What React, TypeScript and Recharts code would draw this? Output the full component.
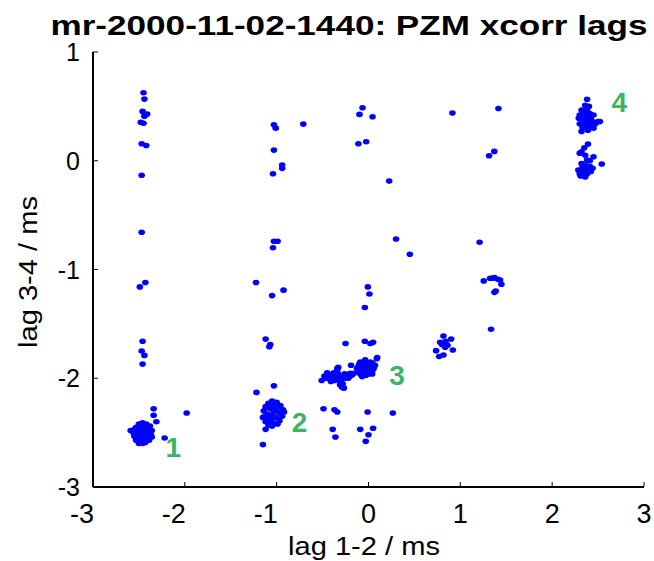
import React from "react";
import { ScatterChart, Scatter, XAxis, YAxis } from "recharts";

// lag 1-2 (ms), lag 3-4 (ms) pairs
const strayPoints = [
  [-2.45, 0.625], [-2.44, 0.567], [-2.46, 0.454], [-2.41, 0.43], [-2.44, 0.41],
  [-2.48, 0.353], [-2.45, 0.345], [-2.47, 0.156], [-2.42, 0.14], [-2.47, -0.134],
  [-2.47, -0.658], [-2.49, -1.16], [-2.43, -1.12], [-2.46, -1.66], [-2.47, -1.75],
  [-2.44, -1.79], [-2.46, -1.87], [-2.34, -2.28], [-2.34, -2.34], [-2.31, -2.4],
  [-2.22, -2.55], [-1.98, -2.32], [-2.59, -2.48],
  [-1.03, 0.33], [-1.01, 0.3], [-0.71, 0.337], [-1.03, 0.098], [-0.94, -0.04],
  [-0.94, -0.07], [-1.04, -0.12], [-1.03, -0.74], [-0.99, -0.74], [-1.04, -0.8],
  [-1.225, -1.12], [-1.05, -1.24], [-0.925, -1.19], [-1.12, -1.64], [-1.08, -1.71],
  [-1.07, -1.69], [-1.03, -2.07], [-1.22, -2.13], [-1.12, -2.47], [-1.15, -2.61],
  [-0.065, 0.487], [-0.098, 0.426], [0.044, 0.405], [-0.11, 0.156], [-0.025, 0.175],
  [0.225, -0.187], [0.3, -0.72], [0.45, -0.86],
  [-0.007, -1.16], [0.01, -1.225], [-0.04, -1.35], [-0.04, -1.66], [0.02, -1.68],
  [0.05, -1.67], [-0.25, -1.68], [-0.19, -1.88], [-0.34, -1.91], [0.095, -1.81],
  [-0.27, -2.09], [-0.49, -2.28], [-0.37, -2.29], [-0.34, -2.31], [-0.39, -2.47],
  [-0.36, -2.54], [-0.01, -2.31], [0.265, -2.32], [-0.09, -2.47], [0.05, -2.46],
  [0.0, -2.52], [-0.03, -2.58],
  [0.914, 0.438], [1.415, 0.48], [1.313, 0.046], [1.37, 0.086], [1.21, -0.75],
  [0.816, -1.611], [0.9, -1.64], [0.78, -1.67], [0.835, -1.715], [0.736, -1.746],
  [0.77, -1.8], [0.816, -1.786], [0.918, -1.74], [0.86, -1.696], [0.8, -1.69],
  [0.84, -1.66],
  [1.255, -1.105], [1.324, -1.08], [1.371, -1.075], [1.433, -1.096], [1.447, -1.136],
  [1.371, -1.21], [1.386, -1.198], [1.335, -1.55], [1.35, -1.08], [1.41, -1.09],
];

const cluster1 = [
  [-2.46, -2.41], [-2.42, -2.42], [-2.5, -2.42], [-2.38, -2.44], [-2.45, -2.44],
  [-2.53, -2.45], [-2.55, -2.47], [-2.48, -2.47], [-2.41, -2.47], [-2.36, -2.48],
  [-2.44, -2.49], [-2.52, -2.5], [-2.56, -2.5], [-2.38, -2.51], [-2.47, -2.52],
  [-2.55, -2.53], [-2.42, -2.53], [-2.36, -2.54], [-2.5, -2.55], [-2.45, -2.56],
  [-2.39, -2.57], [-2.53, -2.57], [-2.48, -2.58], [-2.43, -2.59], [-2.5, -2.6],
  [-2.46, -2.6], [-2.4, -2.45], [-2.49, -2.44], [-2.37, -2.52], [-2.54, -2.54],
];

const cluster2 = [
  [-1.05, -2.21], [-1.0, -2.22], [-1.09, -2.23], [-0.96, -2.25], [-1.04, -2.25],
  [-1.12, -2.26], [-1.0, -2.28], [-1.07, -2.28], [-0.93, -2.29], [-1.14, -2.3],
  [-1.03, -2.31], [-0.97, -2.32], [-1.1, -2.33], [-1.06, -2.34], [-0.94, -2.35],
  [-1.15, -2.36], [-1.01, -2.36], [-1.08, -2.38], [-0.97, -2.39], [-1.12, -2.4],
  [-1.04, -2.41], [-0.99, -2.42], [-1.09, -2.43], [-1.05, -2.44], [-1.13, -2.35],
  [-0.92, -2.31], [-1.02, -2.27], [-1.06, -2.39],
];

const cluster3 = [
  [-0.51, -2.02], [-0.45, -1.95], [-0.4, -1.985], [-0.34, -1.92], [-0.36, -2.0],
  [-0.31, -2.03], [-0.27, -1.985], [-0.235, -1.97], [-0.2, -1.955], [-0.16, -1.955],
  [-0.29, -2.08], [-0.27, -2.09], [-0.435, -2.0], [-0.48, -1.98], [-0.33, -1.96],
  [-0.22, -2.0], [-0.33, -1.9], [-0.47, -2.0], [-0.42, -1.97], [-0.38, -1.95],
  [-0.37, -2.02], [-0.32, -1.99], [-0.29, -2.01], [-0.25, -2.0], [-0.31, -2.06],
  [-0.28, -2.05], [-0.41, -2.03], [-0.44, -1.97], [-0.36, -1.97], [-0.2, -1.98],
  [-0.18, -1.97], [-0.26, -1.96],
  [-0.09, -1.85], [-0.036, -1.83], [0.02, -1.85], [0.07, -1.88], [0.09, -1.82],
  [-0.11, -1.89], [-0.05, -1.89], [0.0, -1.9], [0.05, -1.92], [-0.11, -1.94],
  [-0.055, -1.955], [0.0, -1.96], [0.04, -1.96], [-0.07, -1.985], [-0.02, -1.93],
  [-0.125, -1.91], [-0.08, -1.87], [-0.02, -1.87], [0.03, -1.88], [-0.07, -1.92],
  [0.02, -1.92], [-0.09, -1.96], [-0.03, -1.975], [0.06, -1.9], [-0.04, -1.95],
  [0.01, -1.94], [-0.1, -1.87], [0.04, -1.86],
];

const cluster4 = [
  [2.38, 0.565], [2.36, 0.51], [2.32, 0.466], [2.38, 0.466], [2.41, 0.435],
  [2.3, 0.42], [2.36, 0.4], [2.45, 0.42], [2.5, 0.36], [2.47, 0.34],
  [2.4, 0.37], [2.35, 0.35], [2.3, 0.34], [2.36, 0.31], [2.41, 0.31],
  [2.32, 0.27], [2.45, 0.3], [2.29, 0.39], [2.52, 0.36], [2.34, 0.44],
  [2.39, 0.43], [2.34, 0.38], [2.42, 0.39], [2.44, 0.36], [2.38, 0.34],
  [2.33, 0.31], [2.39, 0.28], [2.43, 0.33], [2.37, 0.48], [2.4, 0.5],
  [2.33, 0.41],
  [2.39, 0.153], [2.32, 0.083], [2.3, 0.07], [2.45, 0.037], [2.38, 0.006],
  [2.54, -0.03], [2.32, -0.025], [2.41, -0.05], [2.285, -0.085], [2.34, -0.1],
  [2.3, -0.12], [2.38, -0.12], [2.39, -0.085], [2.36, -0.04], [2.34, -0.13],
  [2.35, 0.12], [2.36, 0.05], [2.41, 0.0], [2.33, -0.06], [2.37, -0.08],
  [2.42, -0.1], [2.31, -0.14], [2.36, -0.15], [2.44, -0.07],
];

const clusterLabels = ["1", "2", "3", "4"];
const labelX = [-2.125, -0.75, 0.31, 2.73];
const labelY = [-2.636, -2.4, -1.97, 0.54];

const xTicks = [-3, -2, -1, 0, 1, 2, 3];
const yTicks = [-3, -2, -1, 0, 1];

const toRows = (pts: number[][]) => pts.map(([x, y]) => ({ x, y }));
const dotData = toRows([...strayPoints, ...cluster1, ...cluster2, ...cluster3, ...cluster4]);
const labelData = clusterLabels.map((t, i) => ({ x: labelX[i], y: labelY[i], t }));

const FONT = "'Liberation Sans', Arial, Helvetica, sans-serif";
const BLUE = "#0000ff";
const GREEN = "#3cb462";

const Dot = (p: any) => <ellipse cx={p.cx} cy={p.cy} rx={3.3} ry={2.8} fill={BLUE} />;

const ClusterLabel = (p: any) => (
  <text
    x={p.cx}
    y={p.cy}
    dy="0.36em"
    textAnchor="middle"
    fontFamily={FONT}
    fontWeight="bold"
    fontSize={28}
    fill={GREEN}
  >
    {p.payload.t}
  </text>
);

const XTick = (p: any) => {
  const v = p.payload.value;
  return (
    <text
      x={v < 0 ? p.x + 1 : p.x}
      y={p.y}
      textAnchor={v < 0 ? "end" : "middle"}
      fontFamily={FONT}
      fontSize={27}
      fill="#000"
    >
      {v}
    </text>
  );
};

const YTick = (p: any) => (
  <text
    x={p.x}
    y={p.y}
    dy="0.36em"
    textAnchor="end"
    fontFamily={FONT}
    fontSize={25}
    fill="#000"
  >
    {p.payload.value}
  </text>
);

const Blank = () => <g />;

const axisLine = { stroke: "#000", strokeWidth: 2 };
const tickLine = { stroke: "#000", strokeWidth: 1 };

const App = () => {
  return (
    <div style={{ position: "absolute", left: 0, top: 0, width: 654, height: 561, background: "#fff" }}>
      <ScatterChart width={654} height={561} margin={{ top: 52, right: 10, bottom: 0, left: 0 }}>
        <XAxis
          dataKey="x"
          type="number"
          domain={[-3, 3]}
          ticks={xTicks}
          interval={0}
          height={74}
          tickSize={-5}
          tickMargin={41}
          axisLine={axisLine}
          tickLine={tickLine}
          tick={<XTick />}
        />
        <XAxis
          xAxisId="top"
          orientation="top"
          type="number"
          domain={[-3, 3]}
          ticks={xTicks}
          interval={0}
          height={0}
          tickSize={-5}
          axisLine={axisLine}
          tickLine={tickLine}
          tick={<Blank />}
        />
        <YAxis
          dataKey="y"
          type="number"
          domain={[-3, 1]}
          ticks={yTicks}
          interval={0}
          width={93}
          tickSize={-5}
          tickMargin={18}
          axisLine={axisLine}
          tickLine={tickLine}
          tick={<YTick />}
        />
        <YAxis
          yAxisId="right"
          orientation="right"
          type="number"
          domain={[-3, 1]}
          ticks={yTicks}
          interval={0}
          width={0}
          tickSize={-5}
          axisLine={axisLine}
          tickLine={tickLine}
          tick={<Blank />}
        />
        <Scatter data={dotData} shape={Dot} isAnimationActive={false} />
        <Scatter data={labelData} shape={ClusterLabel} isAnimationActive={false} />
      </ScatterChart>
      <svg
        width={654}
        height={561}
        style={{ position: "absolute", left: 0, top: 0, pointerEvents: "none" }}
      >
        <text
          x={349}
          y={35}
          textAnchor="middle"
          fontFamily={FONT}
          fontWeight="bold"
          fontSize={28}
          textLength={597}
          lengthAdjust="spacingAndGlyphs"
        >
          mr-2000-11-02-1440: PZM xcorr lags
        </text>
        <text
          x={364}
          y={555}
          textAnchor="middle"
          fontFamily={FONT}
          fontSize={26}
          textLength={152}
          lengthAdjust="spacingAndGlyphs"
        >
          lag 1-2 / ms
        </text>
        <text
          transform="translate(37,272) rotate(-90)"
          textAnchor="middle"
          fontFamily={FONT}
          fontSize={26}
          textLength={152}
          lengthAdjust="spacingAndGlyphs"
        >
          lag 3-4 / ms
        </text>
      </svg>
    </div>
  );
};

export default App;
